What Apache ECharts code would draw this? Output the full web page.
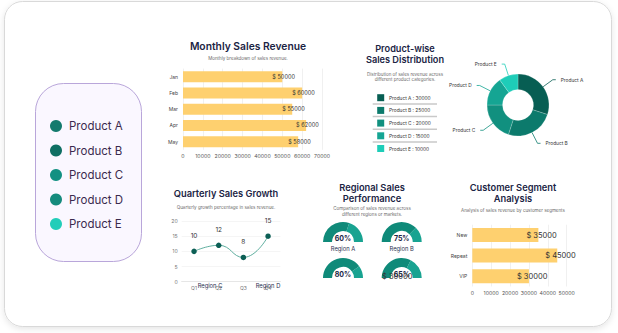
<!DOCTYPE html>
<html><head><meta charset="utf-8">
<script src="https://cdn.jsdelivr.net/npm/echarts@6/dist/echarts.min.js"></script>
<style>html,body{margin:0;padding:0;background:#fff;}#c{width:618px;height:333px;}</style>
</head><body><div id="c"></div>
<script>
// ---- data ----
const months = ['Jan', 'Feb', 'Mar', 'Apr', 'May'];
const monthlySales = [50000, 60000, 55000, 62000, 58000];
const quarters = ['Q1', 'Q2', 'Q3', 'Q4'];
const growth = [10, 12, 8, 15];
const products = ['Product A', 'Product B', 'Product C', 'Product D', 'Product E'];
const productSales = [30000, 25000, 20000, 15000, 10000];
const regions = ['Region A', 'Region B', 'Region C', 'Region D'];
const regionPerf = [60, 75, 80, 65];
const segments = ['New', 'Repeat', 'VIP'];
const segmentSales = [35000, 45000, 30000];

// ---- styles ----
const FONT = 'Inter, "Noto Sans", sans-serif';
const NAVY = '#1b2444';
const pieColors = ['#075e53', '#0c7a6c', '#11907f', '#15a593', '#1ecdb8'];
const legendColors = ['#137a6d', '#0f6f63', '#129082', '#158b7d', '#22cdb9'];
const BAR = '#fed06f';

const chart = echarts.init(document.getElementById('c'), null, {renderer: 'svg'});

const graphics = [];
graphics.push({type: 'rect', z: -10, shape: {x: 4.5, y: 1.5, width: 607, height: 325, r: 18},
  style: {fill: '#fff', stroke: '#d9d9d9', lineWidth: 1, shadowBlur: 6, shadowColor: 'rgba(0,0,0,0.10)', shadowOffsetY: 2}});
graphics.push({type: 'rect', z: -5, shape: {x: 35.5, y: 83.5, width: 106, height: 178, r: 28},
  style: {fill: '#faf7ff', stroke: '#b9a6da', lineWidth: 1}});
products.forEach((p, i) => {
  const cy = 126 + 24.5 * i;
  graphics.push({type: 'circle', shape: {cx: 56, cy: cy, r: 6}, style: {fill: legendColors[i]}});
  graphics.push({type: 'text', style: {x: 69, y: cy, text: p, font: '11.5px ' + FONT, fill: '#3b2a4e', textVerticalAlign: 'middle'}});
});
// titles
function title(x, y, text, size) {
  graphics.push({type: 'text', style: {x: x, y: y, text: text, font: '600 ' + size + 'px ' + FONT, fill: NAVY, textAlign: 'center', textVerticalAlign: 'middle'}});
}
function sub(x, y, text) {
  graphics.push({type: 'text', style: {x: x, y: y, text: text, font: '4.5px ' + FONT, fill: '#6a6a6a', textAlign: 'center', textVerticalAlign: 'middle'}});
}
title(248, 46, 'Monthly Sales Revenue', 10.3);
sub(248, 58, 'Monthly breakdown of sales revenue.');
title(405, 48, 'Product-wise', 9.2);
title(405, 59, 'Sales Distribution', 9.2);
sub(405, 74, 'Distribution of sales revenue across');
sub(405, 79.5, 'different product categories.');
title(226, 193, 'Quarterly Sales Growth', 9.3);
sub(226, 207, 'Quarterly growth percentage in sales revenue.');
title(372, 187, 'Regional Sales', 9.3);
title(372, 198, 'Performance', 9.3);
sub(372, 208.5, 'Comparison of sales revenue across');
sub(372, 214, 'different regions or markets.');
title(513, 187, 'Customer Segment', 9.3);
title(513, 198, 'Analysis', 9.3);
sub(513, 210, 'Analysis of sales revenue by customer segments');
// product table
products.forEach((p, i) => {
  const cy = 97.7 + 12.7 * i;
  graphics.push({type: 'rect', shape: {x: 377.2, y: cy - 3.5, width: 7, height: 7}, style: {fill: pieColors[i]}});
  graphics.push({type: 'text', style: {x: 389, y: cy, text: p + ' : ' + productSales[i], font: '4.8px ' + FONT, fill: '#333', textVerticalAlign: 'middle'}});
  if (i < products.length - 1) {
    graphics.push({type: 'line', shape: {x1: 372.7, y1: cy + 6.2, x2: 437, y2: cy + 6.2}, style: {stroke: '#c9c9c9', lineWidth: 1.5}});
  }
});
// stray label in the reference
graphics.push({type: 'text', z: 50, style: {x: 382, y: 276, text: '$ ' + segmentSales[2], font: '7.5px ' + FONT, fill: '#333', textVerticalAlign: 'middle'}});

const gaugeCenters = [[343, 242], [401.7, 242], [343, 278], [401.7, 278]];
const gaugeTitleOffsets = [[0, 6.5], [0, 6.5], [-133, 7], [-133.7, 7]];
const gauges = regions.map((r, i) => ({
  type: 'gauge', center: gaugeCenters[i], radius: 20, startAngle: 180, endAngle: 0, min: 0, max: 100,
  pointer: {show: false}, axisTick: {show: false}, splitLine: {show: false}, axisLabel: {show: false},
  progress: {show: false},
  axisLine: {lineStyle: {width: 9, color: [[regionPerf[i] / 100, '#0f8a79'], [1, '#18a391']]}},
  title: {offsetCenter: gaugeTitleOffsets[i], fontSize: 5.8, color: '#2a3050', fontFamily: FONT},
  detail: {formatter: '{value}%', offsetCenter: [0, -4], fontSize: 7, fontWeight: 'bold', color: NAVY, fontFamily: FONT},
  data: [{value: regionPerf[i], name: r}]
}));

const axisLbl = {fontSize: 5.2, color: '#555', fontFamily: FONT, formatter: v => String(v)};
const catLbl = {fontSize: 5, color: '#444', fontFamily: FONT};
const option = {
  animation: false,
  graphic: graphics,
  grid: [
    {left: 183, width: 139, top: 68.6, height: 81.2},
    {left: 181.7, width: 98.7, top: 221, height: 60.7},
    {left: 472.3, width: 94.4, top: 224.7, height: 61.8}
  ],
  xAxis: [
    {gridIndex: 0, type: 'value', min: 0, max: 70000, interval: 10000, axisLabel: Object.assign({margin: 4}, axisLbl),
      splitLine: {lineStyle: {color: '#f0f0f0'}}, axisLine: {show: false}, axisTick: {show: false}},
    {gridIndex: 1, type: 'category', data: quarters, axisLabel: Object.assign({margin: 4}, catLbl, {color: '#777'}),
      axisLine: {lineStyle: {color: '#e6e6e6'}}, axisTick: {show: false}},
    {gridIndex: 2, type: 'value', min: 0, max: 50000, interval: 10000, axisLabel: Object.assign({margin: 4}, axisLbl),
      splitLine: {lineStyle: {color: '#f0f0f0'}}, axisLine: {show: false}, axisTick: {show: false}}
  ],
  yAxis: [
    {gridIndex: 0, type: 'category', data: months, inverse: true, axisLabel: Object.assign({margin: 5}, catLbl),
      axisLine: {show: false}, axisTick: {show: false}},
    {gridIndex: 1, type: 'value', min: 0, max: 20, interval: 5, axisLabel: Object.assign({margin: 4}, axisLbl, {color: '#777'}),
      splitLine: {lineStyle: {color: '#f5f5f5'}}, axisLine: {show: false}, axisTick: {show: false}},
    {gridIndex: 2, type: 'category', data: segments, inverse: true, axisLabel: Object.assign({margin: 5}, catLbl),
      axisLine: {show: false}, axisTick: {show: false}}
  ],
  series: [
    {type: 'bar', xAxisIndex: 0, yAxisIndex: 0, data: monthlySales, barWidth: 11, itemStyle: {color: BAR},
      label: {show: true, position: 'right', offset: [-15, 0], formatter: '$ {c}', fontSize: 5.6, color: '#333', fontFamily: FONT}},
    {type: 'line', xAxisIndex: 1, yAxisIndex: 1, data: growth, smooth: true, symbol: 'circle', symbolSize: 5.5,
      lineStyle: {color: '#5fae9f', width: 1}, itemStyle: {color: '#0c5f55'},
      label: {show: true, position: 'top', distance: 9, fontSize: 6.5, color: '#333', fontFamily: FONT}},
    {type: 'bar', xAxisIndex: 2, yAxisIndex: 2, data: segmentSales, barWidth: 14, itemStyle: {color: BAR},
      label: {show: true, position: 'right', offset: [-17, 0], formatter: '$ {c}', fontSize: 7.5, color: '#333', fontFamily: FONT}},
    {type: 'pie', center: [518, 105], radius: [15.5, 31], startAngle: 90, clockwise: true,
      data: products.map((p, i) => ({name: p, value: productSales[i], itemStyle: {color: pieColors[i]}})),
      itemStyle: {borderColor: 'rgba(255,255,255,0.4)', borderWidth: 0.5},
      label: {show: true, fontSize: 4.8, color: '#333', fontFamily: FONT},
      labelLine: {show: true, length: 12, length2: 3, lineStyle: {width: 0.8}}},
    ...gauges
  ]
};
chart.setOption(option);
</script></body></html>
